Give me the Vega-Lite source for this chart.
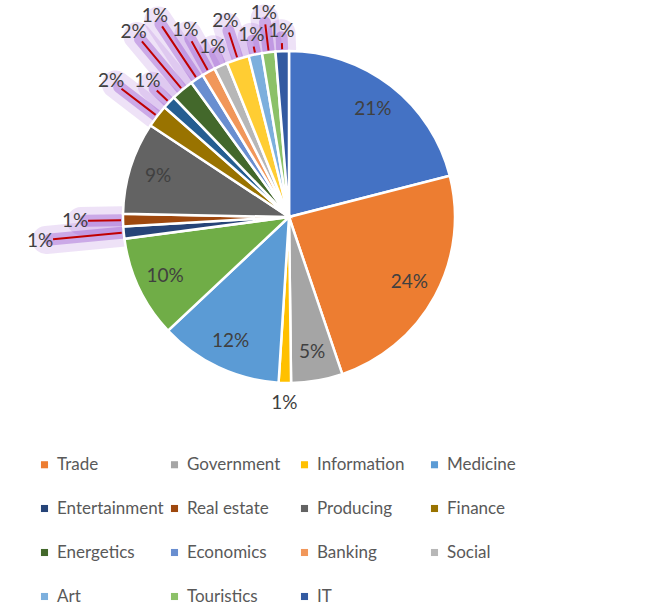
{
  "$schema": "https://vega.github.io/schema/vega-lite/v6.json",
  "width": 578,
  "height": 434,
  "padding": {"left": 0, "top": 0, "right": 79, "bottom": 180},
  "autosize": "none",
  "background": "white",
  "view": {"stroke": null},
  "config": {"font": "Lato"},
  "data": {
    "values": [
      {"rank": 1, "sector": "Education", "share": 0.210},
      {"rank": 2, "sector": "Trade", "share": 0.238},
      {"rank": 3, "sector": "Government", "share": 0.050},
      {"rank": 4, "sector": "Information", "share": 0.012},
      {"rank": 5, "sector": "Medicine", "share": 0.120},
      {"rank": 6, "sector": "Science", "share": 0.099},
      {"rank": 7, "sector": "Entertainment", "share": 0.012},
      {"rank": 8, "sector": "Real estate", "share": 0.012},
      {"rank": 9, "sector": "Producing", "share": 0.090},
      {"rank": 10, "sector": "Finance", "share": 0.022},
      {"rank": 11, "sector": "Transport", "share": 0.013},
      {"rank": 12, "sector": "Energetics", "share": 0.022},
      {"rank": 13, "sector": "Economics", "share": 0.013},
      {"rank": 14, "sector": "Banking", "share": 0.013},
      {"rank": 15, "sector": "Social", "share": 0.013},
      {"rank": 16, "sector": "Sport", "share": 0.022},
      {"rank": 17, "sector": "Art", "share": 0.013},
      {"rank": 18, "sector": "Touristics", "share": 0.013},
      {"rank": 19, "sector": "IT", "share": 0.013}
    ]
  },
  "encoding": {
    "theta": {"field": "share", "type": "quantitative", "stack": true},
    "order": {"field": "rank", "type": "quantitative"}
  },
  "layer": [
    {"mark": {"type": "arc", "radius": 184, "radius2": 168, "padAngle": 0.4, "fill": null, "stroke": "#8a3fc8", "strokeWidth": 28, "strokeCap": "round", "strokeJoin": "round"},
     "encoding": {"opacity": {"condition": {"test": "indexof([15,17,19], datum.rank) >= 0", "value": 0.15}, "value": 0}}},
    {"mark": {"type": "arc", "radius": 190, "radius2": 168, "padAngle": 0.4, "fill": null, "stroke": "#8a3fc8", "strokeWidth": 28, "strokeCap": "round", "strokeJoin": "round"},
     "encoding": {"opacity": {"condition": {"test": "indexof([11], datum.rank) >= 0", "value": 0.15}, "value": 0}}},
    {"mark": {"type": "arc", "radius": 200, "radius2": 168, "padAngle": 0.4, "fill": null, "stroke": "#8a3fc8", "strokeWidth": 28, "strokeCap": "round", "strokeJoin": "round"},
     "encoding": {"opacity": {"condition": {"test": "indexof([16,18], datum.rank) >= 0", "value": 0.15}, "value": 0}}},
    {"mark": {"type": "arc", "radius": 208, "radius2": 168, "padAngle": 0.4, "fill": null, "stroke": "#8a3fc8", "strokeWidth": 28, "strokeCap": "round", "strokeJoin": "round"},
     "encoding": {"opacity": {"condition": {"test": "indexof([8,14], datum.rank) >= 0", "value": 0.15}, "value": 0}}},
    {"mark": {"type": "arc", "radius": 218, "radius2": 168, "padAngle": 0.4, "fill": null, "stroke": "#8a3fc8", "strokeWidth": 28, "strokeCap": "round", "strokeJoin": "round"},
     "encoding": {"opacity": {"condition": {"test": "indexof([10], datum.rank) >= 0", "value": 0.15}, "value": 0}}},
    {"mark": {"type": "arc", "radius": 236, "radius2": 168, "padAngle": 0.4, "fill": null, "stroke": "#8a3fc8", "strokeWidth": 28, "strokeCap": "round", "strokeJoin": "round"},
     "encoding": {"opacity": {"condition": {"test": "indexof([12,13], datum.rank) >= 0", "value": 0.15}, "value": 0}}},
    {"mark": {"type": "arc", "radius": 244, "radius2": 168, "padAngle": 0.4, "fill": null, "stroke": "#8a3fc8", "strokeWidth": 28, "strokeCap": "round", "strokeJoin": "round"},
     "encoding": {"opacity": {"condition": {"test": "indexof([7], datum.rank) >= 0", "value": 0.15}, "value": 0}}},
    {"mark": {"type": "arc", "radius": 180, "radius2": 168, "padAngle": 0.4, "fill": null, "stroke": "#8a3fc8", "strokeWidth": 12, "strokeCap": "round", "strokeJoin": "round"},
     "encoding": {"opacity": {"condition": {"test": "indexof([15,17,19], datum.rank) >= 0", "value": 0.35}, "value": 0}}},
    {"mark": {"type": "arc", "radius": 186, "radius2": 168, "padAngle": 0.4, "fill": null, "stroke": "#8a3fc8", "strokeWidth": 12, "strokeCap": "round", "strokeJoin": "round"},
     "encoding": {"opacity": {"condition": {"test": "indexof([11], datum.rank) >= 0", "value": 0.35}, "value": 0}}},
    {"mark": {"type": "arc", "radius": 196, "radius2": 168, "padAngle": 0.4, "fill": null, "stroke": "#8a3fc8", "strokeWidth": 12, "strokeCap": "round", "strokeJoin": "round"},
     "encoding": {"opacity": {"condition": {"test": "indexof([16,18], datum.rank) >= 0", "value": 0.35}, "value": 0}}},
    {"mark": {"type": "arc", "radius": 204, "radius2": 168, "padAngle": 0.4, "fill": null, "stroke": "#8a3fc8", "strokeWidth": 12, "strokeCap": "round", "strokeJoin": "round"},
     "encoding": {"opacity": {"condition": {"test": "indexof([8,14], datum.rank) >= 0", "value": 0.35}, "value": 0}}},
    {"mark": {"type": "arc", "radius": 214, "radius2": 168, "padAngle": 0.4, "fill": null, "stroke": "#8a3fc8", "strokeWidth": 12, "strokeCap": "round", "strokeJoin": "round"},
     "encoding": {"opacity": {"condition": {"test": "indexof([10], datum.rank) >= 0", "value": 0.35}, "value": 0}}},
    {"mark": {"type": "arc", "radius": 232, "radius2": 168, "padAngle": 0.4, "fill": null, "stroke": "#8a3fc8", "strokeWidth": 12, "strokeCap": "round", "strokeJoin": "round"},
     "encoding": {"opacity": {"condition": {"test": "indexof([12,13], datum.rank) >= 0", "value": 0.35}, "value": 0}}},
    {"mark": {"type": "arc", "radius": 240, "radius2": 168, "padAngle": 0.4, "fill": null, "stroke": "#8a3fc8", "strokeWidth": 12, "strokeCap": "round", "strokeJoin": "round"},
     "encoding": {"opacity": {"condition": {"test": "indexof([7], datum.rank) >= 0", "value": 0.35}, "value": 0}}},
    {
      "mark": {"type": "arc", "radius": 166, "stroke": "white", "strokeWidth": 2.5},
      "encoding": {
        "color": {
          "field": "sector",
          "type": "nominal",
          "scale": {
            "domain": ["Education", "Trade", "Government", "Information", "Medicine", "Science", "Entertainment", "Real estate", "Producing", "Finance", "Transport", "Energetics", "Economics", "Banking", "Social", "Sport", "Art", "Touristics", "IT"],
            "range": ["#4472C4", "#ED7D31", "#A5A5A5", "#FFC000", "#5B9BD5", "#70AD47", "#264478", "#9E480E", "#636363", "#997300", "#255E91", "#43682B", "#698ED0", "#F1975A", "#B7B7B7", "#FFCD33", "#7CAFDD", "#8CC168", "#335AA1"]
          },
          "legend": {
            "values": ["Trade", "Government", "Information", "Medicine", "Entertainment", "Real estate", "Producing", "Finance", "Energetics", "Economics", "Banking", "Social", "Art", "Touristics", "IT"],
            "title": null,
            "orient": "none",
            "legendX": 36,
            "legendY": 456,
            "direction": "horizontal",
            "columns": 4,
            "gridAlign": "all",
            "columnPadding": 2,
            "rowPadding": 26,
            "symbolType": "square",
            "symbolSize": 50,
            "symbolStrokeWidth": 0,
            "labelFontSize": 17,
            "labelColor": "#595959",
            "labelFont": "Lato",
            "labelOffset": 4,
            "labelLimit": 200
          }
        }
      }
    },
    {"mark": {"type": "arc", "radius": 174, "radius2": 168, "padAngle": 0.4, "fill": null, "stroke": "#C00000", "strokeWidth": 2},
     "encoding": {"opacity": {"condition": {"test": "indexof([17,19], datum.rank) >= 0", "value": 1}, "value": 0}}},
    {"mark": {"type": "arc", "radius": 183, "radius2": 168, "padAngle": 0.4, "fill": null, "stroke": "#C00000", "strokeWidth": 2},
     "encoding": {"opacity": {"condition": {"test": "indexof([11], datum.rank) >= 0", "value": 1}, "value": 0}}},
    {"mark": {"type": "arc", "radius": 194, "radius2": 168, "padAngle": 0.4, "fill": null, "stroke": "#C00000", "strokeWidth": 2},
     "encoding": {"opacity": {"condition": {"test": "indexof([16,18], datum.rank) >= 0", "value": 1}, "value": 0}}},
    {"mark": {"type": "arc", "radius": 201, "radius2": 168, "padAngle": 0.4, "fill": null, "stroke": "#C00000", "strokeWidth": 2},
     "encoding": {"opacity": {"condition": {"test": "indexof([8,14], datum.rank) >= 0", "value": 1}, "value": 0}}},
    {"mark": {"type": "arc", "radius": 211, "radius2": 168, "padAngle": 0.4, "fill": null, "stroke": "#C00000", "strokeWidth": 2},
     "encoding": {"opacity": {"condition": {"test": "indexof([10], datum.rank) >= 0", "value": 1}, "value": 0}}},
    {"mark": {"type": "arc", "radius": 229, "radius2": 168, "padAngle": 0.4, "fill": null, "stroke": "#C00000", "strokeWidth": 2},
     "encoding": {"opacity": {"condition": {"test": "indexof([12,13], datum.rank) >= 0", "value": 1}, "value": 0}}},
    {"mark": {"type": "arc", "radius": 237, "radius2": 168, "padAngle": 0.4, "fill": null, "stroke": "#C00000", "strokeWidth": 2},
     "encoding": {"opacity": {"condition": {"test": "indexof([7], datum.rank) >= 0", "value": 1}, "value": 0}}},
    {"mark": {"type": "text", "fontSize": 19, "color": "#404040"},
     "encoding": {"radius": {"value": 137}, "text": {"condition": {"test": "datum.share >= 0.05", "field": "share", "format": ".0%"}, "value": ""}}},
    {"mark": {"type": "text", "fontSize": 19, "color": "#404040"},
     "encoding": {"radius": {"value": 186}, "text": {"condition": {"test": "indexof([4,15,17,19], datum.rank) >= 0", "field": "share", "format": ".0%"}, "value": ""}}},
    {"mark": {"type": "text", "fontSize": 19, "color": "#404040"},
     "encoding": {"radius": {"value": 196}, "text": {"condition": {"test": "indexof([11], datum.rank) >= 0", "field": "share", "format": ".0%"}, "value": ""}}},
    {"mark": {"type": "text", "fontSize": 19, "color": "#404040"},
     "encoding": {"radius": {"value": 206}, "text": {"condition": {"test": "indexof([16,18], datum.rank) >= 0", "field": "share", "format": ".0%"}, "value": ""}}},
    {"mark": {"type": "text", "fontSize": 19, "color": "#404040"},
     "encoding": {"radius": {"value": 214}, "text": {"condition": {"test": "indexof([8,14], datum.rank) >= 0", "field": "share", "format": ".0%"}, "value": ""}}},
    {"mark": {"type": "text", "fontSize": 19, "color": "#404040"},
     "encoding": {"radius": {"value": 224}, "text": {"condition": {"test": "indexof([10], datum.rank) >= 0", "field": "share", "format": ".0%"}, "value": ""}}},
    {"mark": {"type": "text", "fontSize": 19, "color": "#404040"},
     "encoding": {"radius": {"value": 242}, "text": {"condition": {"test": "indexof([12,13], datum.rank) >= 0", "field": "share", "format": ".0%"}, "value": ""}}},
    {"mark": {"type": "text", "fontSize": 19, "color": "#404040"},
     "encoding": {"radius": {"value": 250}, "text": {"condition": {"test": "indexof([7], datum.rank) >= 0", "field": "share", "format": ".0%"}, "value": ""}}}
  ]
}
